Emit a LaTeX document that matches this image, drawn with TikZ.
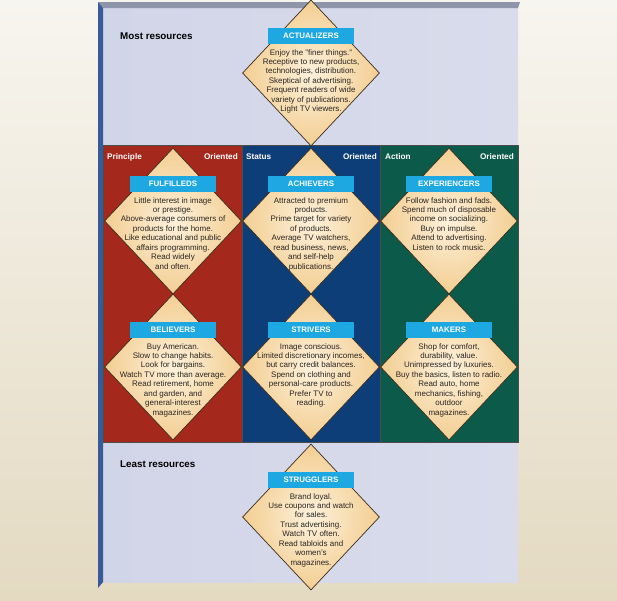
\documentclass[tikz,border=0pt]{standalone}
\usepackage{fontspec}
\setmainfont{Liberation Sans}
\usetikzlibrary{shapes.geometric}
\definecolor{bgtop}{HTML}{F7F5EF}
\definecolor{bgbot}{HTML}{E4DAC2}
\definecolor{panel}{HTML}{D1D5E8}
\definecolor{panelr}{HTML}{D9DCEB}
\definecolor{bevel}{HTML}{8E94AA}
\definecolor{sidebar}{HTML}{385A96}
\definecolor{colred}{HTML}{A4281B}
\definecolor{colblue}{HTML}{0E3E78}
\definecolor{colgreen}{HTML}{0C5A49}
\definecolor{dinner}{HTML}{FDF1DB}
\definecolor{douter}{HTML}{F3CE92}
\definecolor{dline}{HTML}{3A2C1C}
\definecolor{barcyan}{HTML}{1EA8E2}
\definecolor{bardark}{HTML}{1A3F66}
\definecolor{bodytext}{HTML}{2A2522}
\tikzset{
  colbox/.style={draw=black!70, line width=0.5pt},
  headlbl/.style={text=white, font=\fontsize{8.2}{9}\selectfont\bfseries, inner sep=0pt},
  reslbl/.style={text=black, font=\fontsize{9.8}{11}\selectfont\bfseries, inner sep=0pt, anchor=west},
  dia/.style={diamond, shape aspect=0.938, minimum width=137pt, minimum height=146pt, inner sep=0pt,
    draw=dline, line width=0.7pt, shading=radial, inner color=dinner, outer color=douter},
  segbar/.style={rectangle, minimum width=86pt, minimum height=16pt, inner sep=0pt, fill=barcyan,
    text=white, font=\fontsize{7.9}{8}\selectfont\bfseries},
  body/.style={align=center, anchor=north, inner sep=0pt, text=bodytext,
    font=\fontsize{8}{9.45}\selectfont}
}
\begin{document}
\begin{tikzpicture}[x=1pt,y=-1pt]
\useasboundingbox (0,0) rectangle (617,600);
\shade[top color=bgtop, bottom color=bgbot] (0,0) rectangle (617,600);
% panel
\shade[left color=panel, right color=panelr] (103,5) rectangle (518,582);
\fill[bevel] (98,2) -- (520,2) -- (518,8) -- (103,8) -- cycle;
\fill[sidebar] (98,2) -- (103,8) -- (103,582) -- (98,588) -- cycle;
% columns
\fill[colred] (103,145) rectangle (242,442);
\fill[colblue] (242,145) rectangle (380,442);
\fill[colgreen] (380,145) rectangle (518,442);
\draw[colbox] (103,145) rectangle (518,442);
\draw[colbox] (242,145) -- (242,442);
\draw[colbox] (380,145) -- (380,442);
% header labels
\node[headlbl, anchor=west] (h1a) at (107,157) {Principle};
\node[headlbl, anchor=east] (h1b) at (238,157) {Oriented};
\node[headlbl, anchor=west] (h2a) at (246,157) {Status};
\node[headlbl, anchor=east] (h2b) at (377,157) {Oriented};
\node[headlbl, anchor=west] (h3a) at (385,157) {Action};
\node[headlbl, anchor=east] (h3b) at (514,157) {Oriented};
\node[reslbl] (most) at (120,36) {Most resources};
\node[reslbl] (least) at (120,464) {Least resources};
% diamonds
\node[dia] (dact) at (311,73) {};
\node[dia] (dful) at (173,221) {};
\node[dia] (dach) at (311,221) {};
\node[dia] (dexp) at (449,221) {};
\node[dia] (dbel) at (173,367) {};
\node[dia] (dstr) at (311,367) {};
\node[dia] (dmak) at (449,367) {};
\node[dia] (dstg) at (311,517) {};
% bars
\foreach \n/\lbl in {dact/ACTUALIZERS, dful/FULFILLEDS, dach/ACHIEVERS, dexp/EXPERIENCERS,
  dbel/BELIEVERS, dstr/STRIVERS, dmak/MAKERS, dstg/STRUGGLERS}{
  \fill[bardark] ([xshift=-43pt,yshift=29pt]\n.center) rectangle ([xshift=43pt,yshift=30.2pt]\n.center);
  \node[segbar] (\n-bar) at ([yshift=37pt]\n.center) {\lbl};
}
% texts
\node[body] (tact) at ([yshift=24pt]dact.center) {Enjoy the "finer things."\\Receptive to new products,\\technologies, distribution.\\Skeptical of advertising.\\Frequent readers of wide\\variety of publications.\\Light TV viewers.};
\node[body] (tful) at ([yshift=24pt]dful.center) {Little interest in image\\or prestige.\\Above-average consumers of\\products for the home.\\Like educational and public\\affairs programming.\\Read widely\\and often.};
\node[body] (tach) at ([yshift=24pt]dach.center) {Attracted to premium\\products.\\Prime target for variety\\of products.\\Average TV watchers,\\read business, news,\\and self-help\\publications.};
\node[body] (texp) at ([yshift=24pt]dexp.center) {Follow fashion and fads.\\Spend much of disposable\\income on socializing.\\Buy on impulse.\\Attend to advertising.\\Listen to rock music.};
\node[body] (tbel) at ([yshift=24pt]dbel.center) {Buy American.\\Slow to change habits.\\Look for bargains.\\Watch TV more than average.\\Read retirement, home\\and garden, and\\general-interest\\magazines.};
\node[body] (tstr) at ([yshift=24pt]dstr.center) {Image conscious.\\Limited discretionary incomes,\\but carry credit balances.\\Spend on clothing and\\personal-care products.\\Prefer TV to\\reading.};
\node[body] (tmak) at ([yshift=24pt]dmak.center) {Shop for comfort,\\durability, value.\\Unimpressed by luxuries.\\Buy the basics, listen to radio.\\Read auto, home\\mechanics, fishing,\\outdoor\\magazines.};
\node[body] (tstg) at ([yshift=24pt]dstg.center) {Brand loyal.\\Use coupons and watch\\for sales.\\Trust advertising.\\Watch TV often.\\Read tabloids and\\women's\\magazines.};
\end{tikzpicture}
\end{document}
